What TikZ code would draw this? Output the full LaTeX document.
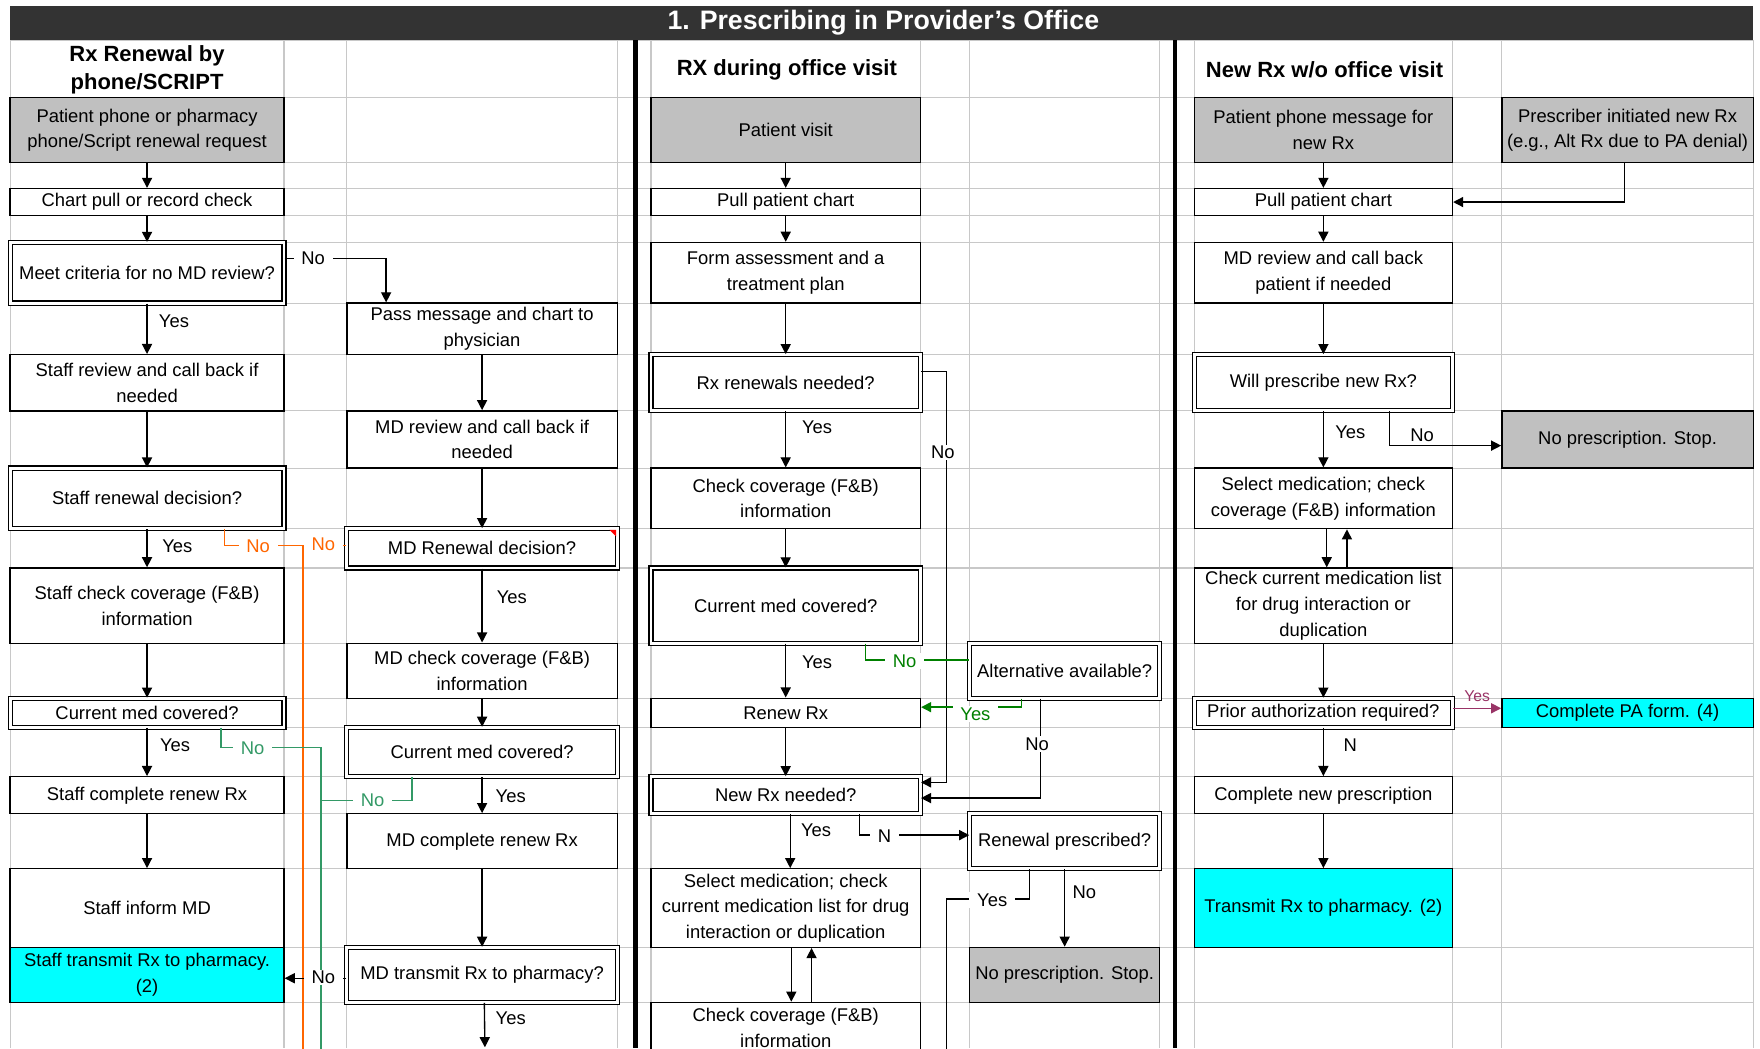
\documentclass[tikz,border=0pt]{standalone}
\usepackage{fontspec}
\setmainfont{Liberation Sans}
\usetikzlibrary{arrows.meta}
\definecolor{gridc}{HTML}{C8C8C8}
\definecolor{titlec}{HTML}{333333}
\definecolor{grayf}{HTML}{C0C0C0}
\definecolor{cyanf}{HTML}{00FFFF}
\definecolor{orangec}{HTML}{FF6600}
\definecolor{greenl}{HTML}{339966}
\definecolor{greenm}{HTML}{008000}
\definecolor{magc}{HTML}{993366}
\newcommand\mkbox[7]{%
  \pgfmathsetmacro\cx{(#2+#4)/2}\pgfmathsetmacro\cy{(#3+#5)/2}%
  \pgfmathsetmacro\bw{(#4-#2)*0.5}\pgfmathsetmacro\bh{(#5-#3)*0.5}%
  \node[#6, minimum width=\bw pt, minimum height=\bh pt] (#1) at (\cx,\cy) {#7};}
\begin{document}
\begin{tikzpicture}[x=0.5pt,y=-0.5pt,
  txt/.style={font=\fontsize{8.2}{11.5}\selectfont},
  box/.style={draw=black, line width=0.6pt, fill=white, inner sep=0pt, align=center, txt},
  dbox/.style={box, double=white, double distance=1.3pt, line width=0.5pt},
  gbox/.style={box, fill=grayf},
  cbox/.style={box, fill=cyanf},
  arr/.style={-{Triangle[length=4.5pt,width=4.5pt]}, line width=0.6pt},
  ln/.style={line width=0.6pt},
  lab/.style={inner sep=0.6pt, txt},
  wlab/.style={lab, fill=white, inner xsep=3.5pt},
  hdr/.style={font=\bfseries\fontsize{9.8}{12.5}\selectfont, align=center},
  gridl/.style={draw=gridc, line width=0.5pt}]
\useasboundingbox (0,0) rectangle (1568,934);
\clip (0,0) rectangle (1568,934);
\fill[white] (0,0) rectangle (1568,934);
% grid
\foreach \yy in {36,87,145,168,192,216,270,316,366,417,471,506,573,622,648,692,725,774,844,893}
  \draw[gridl] (9,\yy) -- (1562,\yy);
\foreach \xx in {9,253,309,550,580,820,864,1033,1064,1294,1338,1562}
  \draw[gridl] (\xx,36) -- (\xx,934);
% title
\fill[titlec] (9,5) rectangle (1562,36);
\node[text=white, font=\bfseries\fontsize{11.9}{14}\selectfont] (title) at (787,20) {1. Prescribing in Provider's Office};
% separators
\draw[line width=2pt] (566,36) -- (566,934);
\draw[line width=2pt] (1047,36) -- (1047,934);
% headers
\node[hdr] (h1) at (131,62) {Rx Renewal by\\phone/SCRIPT};
\node[hdr] (h2) at (701,62) {RX during office visit};
\node[hdr] (h3) at (1180,62) {New Rx w/o office visit};
% left column
\mkbox{pa}{9}{87}{253}{145}{gbox}{Patient phone or pharmacy\\phone/Script renewal request}
\mkbox{cp}{9}{168}{253}{192}{box}{Chart pull or record check}
\mkbox{mc}{9}{216}{253}{270}{dbox}{Meet criteria for no MD review?}
\mkbox{sr}{9}{316}{253}{366}{box}{Staff review and call back if\\needed}
\mkbox{sd}{9}{417}{253}{471}{dbox}{Staff renewal decision?}
\mkbox{sc}{9}{506}{253}{573}{box}{Staff check coverage (F\&B)\\information}
\mkbox{scm}{9}{622}{253}{648}{dbox}{Current med covered?}
\mkbox{scr}{9}{692}{253}{725}{box}{Staff complete renew Rx}
\mkbox{sim}{9}{774}{253}{844}{box}{Staff inform MD}
\mkbox{stx}{9}{844}{253}{893}{cbox}{Staff transmit Rx to pharmacy.\\(2)}
% second column
\mkbox{pm}{309}{270}{550}{316}{box}{Pass message and chart to\\physician}
\mkbox{mr}{309}{366}{550}{417}{box}{MD review and call back if\\needed}
\mkbox{md}{309}{471}{550}{506}{dbox}{MD Renewal decision?}
\mkbox{mcc}{309}{573}{550}{622}{box}{MD check coverage (F\&B)\\information}
\mkbox{mcm}{309}{648}{550}{692}{dbox}{Current med covered?}
\mkbox{mcr}{309}{725}{550}{774}{box}{MD complete renew Rx}
\mkbox{mtx}{309}{844}{550}{893}{dbox}{MD transmit Rx to pharmacy?}
\fill[red] (543,472) -- (549,472) -- (549,478) -- cycle;
% middle column
\mkbox{pv}{580}{87}{820}{145}{gbox}{Patient visit}
\mkbox{pc}{580}{168}{820}{192}{box}{Pull patient chart}
\mkbox{fa}{580}{216}{820}{270}{box}{Form assessment and a\\treatment plan}
\mkbox{rn}{580}{316}{820}{366}{dbox}{Rx renewals needed?}
\mkbox{cc}{580}{417}{820}{471}{box}{Check coverage (F\&B)\\information}
\mkbox{cm}{580}{506}{820}{573}{dbox}{Current med covered?}
\mkbox{rr}{580}{622}{820}{648}{box}{Renew Rx}
\mkbox{nn}{580}{692}{820}{725}{dbox}{New Rx needed?}
\mkbox{sm}{580}{774}{820}{844}{box}{Select medication; check\\current medication list for drug\\interaction or duplication}
\mkbox{cc2}{580}{893}{820}{938}{box}{Check coverage (F\&B)\\information}
\mkbox{aa}{864}{573}{1033}{622}{dbox}{Alternative available?}
\mkbox{rp}{864}{725}{1033}{774}{dbox}{Renewal prescribed?}
\mkbox{np1}{864}{844}{1033}{893}{gbox}{No prescription. Stop.}
% right column
\mkbox{ppm}{1064}{87}{1294}{145}{gbox}{Patient phone message for\\new Rx}
\mkbox{pi}{1338}{87}{1562}{145}{gbox}{Prescriber initiated new Rx\\(e.g., Alt Rx due to PA denial)}
\mkbox{pc3}{1064}{168}{1294}{192}{box}{Pull patient chart}
\mkbox{mr3}{1064}{216}{1294}{270}{box}{MD review and call back\\patient if needed}
\mkbox{wp}{1064}{316}{1294}{366}{dbox}{Will prescribe new Rx?}
\mkbox{np2}{1338}{366}{1562}{417}{gbox}{No prescription. Stop.}
\mkbox{sm3}{1064}{417}{1294}{471}{box}{Select medication; check\\coverage (F\&B) information}
\mkbox{ck3}{1064}{506}{1294}{573}{box}{Check current medication list\\for drug interaction or\\duplication}
\mkbox{pa3}{1064}{622}{1294}{648}{dbox}{Prior authorization required?}
\mkbox{pf}{1338}{622}{1562}{648}{cbox}{Complete PA form. (4)}
\mkbox{cn}{1064}{692}{1294}{725}{box}{Complete new prescription}
\mkbox{tx}{1064}{774}{1294}{844}{cbox}{Transmit Rx to pharmacy. (2)}
% coordinates for free ends
\coordinate (oj) at (270,486);
\coordinate (oe) at (270,944);
\coordinate (gj) at (286,666);
\coordinate (gj2) at (286,713);
\coordinate (ge) at (286,944);
\coordinate (mte) at (432,933);
\coordinate (ry) at (843,801);
\coordinate (rye) at (843,944);
% left column connectors
\draw[arr] (pa.south) -- (cp.north);
\draw[arr] (cp.south) -- (mc.north);
\draw[arr] (mc.south) -- (sr.north);
\draw[arr] ([yshift=6.5pt]mc.east) -| ([xshift=-42.75pt]pm.north);
\draw[arr] (sr.south) -- (sd.north);
\draw[arr] (sd.south) -- (sc.north);
\draw[ln,orangec] ([xshift=34.5pt]sd.south) |- (oj) -- (oe);
\draw[ln,orangec] ([yshift=1.25pt]md.west) -- (oj);
\draw[arr] (sc.south) -- (scm.north);
\draw[arr] (scm.south) -- (scr.north);
\draw[ln,greenl] ([xshift=33pt]scm.south) |- (gj) -- (ge);
\draw[ln,greenl] ([xshift=-31.25pt]mcm.south) |- (gj2);
\draw[arr] (scr.south) -- (sim.north);
\draw[arr] ([yshift=-1.5pt]mtx.west) -- ([yshift=-1.5pt]stx.east);
% second column connectors
\draw[arr] (pm.south) -- (mr.north);
\draw[arr] (mr.south) -- (md.north);
\draw[arr] (md.south) -- (mcc.north);
\draw[arr] (mcc.south) -- (mcm.north);
\draw[arr] (mcm.south) -- (mcr.north);
\draw[arr] (mcr.south) -- (mtx.north);
\draw[arr] ([xshift=1pt]mtx.south) -- (mte);
% middle column connectors
\draw[arr] (pv.south) -- (pc.north);
\draw[arr] (pc.south) -- (fa.north);
\draw[arr] (fa.south) -- (rn.north);
\draw[arr] (rn.south) -- (cc.north);
\draw[arr] ([yshift=5pt]rn.east) -- ++(11.5pt,0) |- ([yshift=5.75pt]nn.east);
\draw[arr] (cc.south) -- (cm.north);
\draw[arr] (cm.south) -- (rr.north);
\draw[ln,greenm] ([xshift=35.5pt]cm.south) |- ([yshift=4.75pt]aa.west);
\draw[arr,greenm] ([xshift=-19.25pt]aa.south) |- ([yshift=2.5pt]rr.east);
\draw[arr] ([xshift=-10.75pt]aa.south) |- ([yshift=-1.25pt]nn.east);
\draw[arr] (rr.south) -- (nn.north);
\draw[arr] ([xshift=2pt]nn.south) -- ([xshift=2pt]sm.north);
\draw[arr] ([xshift=33pt]nn.south) |- ([yshift=2.75pt]rp.west);
\draw[ln] ([xshift=-15.75pt]rp.south) |- (ry) -- (rye);
\draw[arr] (rp.south) -- (np1.north);
\draw[arr] ([xshift=2.5pt]sm.south) -- ([xshift=2.5pt]cc2.north);
\draw[arr] ([xshift=11.5pt]cc2.north) -- ([xshift=11.5pt]sm.south);
% right column connectors
\draw[arr] (ppm.south) -- (pc3.north);
\draw[arr] ([xshift=-1.5pt]pi.south) |- (pc3.east);
\draw[arr] (pc3.south) -- (mr3.north);
\draw[arr] (mr3.south) -- (wp.north);
\draw[arr] (wp.south) -- (sm3.north);
\draw[arr] ([xshift=29.5pt]wp.south) |- ([yshift=-2.75pt]np2.west);
\draw[arr] ([xshift=1.5pt]sm3.south) -- ([xshift=1.5pt]ck3.north);
\draw[arr] ([xshift=10.5pt]ck3.north) -- ([xshift=10.5pt]sm3.south);
\draw[arr] (ck3.south) -- (pa3.north);
\draw[arr,magc] ([yshift=2pt]pa3.east) -- ([yshift=2pt]pf.west);
\draw[arr] (pa3.south) -- (cn.north);
\draw[arr] (cn.south) -- (tx.north);
% labels
\node[lab] (l1) at (155,286) {Yes};
\node[wlab] (l2) at (279,230) {No};
\node[lab] (l3) at (158,487) {Yes};
\node[wlab,text=orangec] (l4) at (230,487) {No};
\node[wlab,text=orangec] (l5) at (288,485) {No};
\node[lab] (l6) at (156,664) {Yes};
\node[wlab,text=greenl] (l7) at (225,667) {No};
\node[wlab,text=greenl] (l8) at (332,713) {No};
\node[wlab] (l9) at (288,871) {No};
\node[lab] (l10) at (456,532) {Yes};
\node[lab] (l11) at (455,709) {Yes};
\node[lab] (l12) at (455,907) {Yes};
\node[lab] (l13) at (728,381) {Yes};
\node[wlab] (l14) at (840,403) {No};
\node[lab] (l15) at (728,590) {Yes};
\node[wlab,text=greenm] (l16) at (806,589) {No};
\node[wlab,text=greenm] (l17) at (869,636) {Yes};
\node[wlab] (l18) at (924,663) {No};
\node[lab] (l19) at (727,740) {Yes};
\node[wlab] (l20) at (788,745) {N};
\node[wlab] (l21) at (884,802) {Yes};
\node[lab] (l22) at (966,795) {No};
\node[lab] (l23) at (1203,385) {Yes};
\node[lab] (l24) at (1267,388) {No};
\node[lab,text=magc,font=\fontsize{7}{8}\selectfont] (l25) at (1316,620) {Yes};
\node[lab] (l26) at (1203,664) {N};
\end{tikzpicture}
\end{document}
